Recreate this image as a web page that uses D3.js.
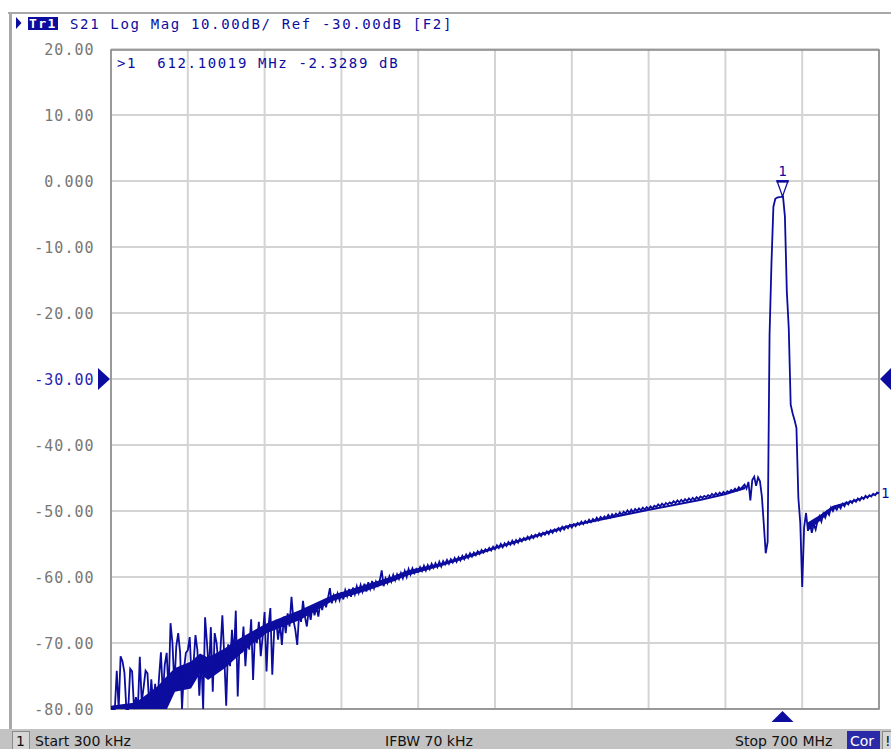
<!DOCTYPE html>
<html>
<head>
<meta charset="utf-8">
<script src="https://cdn.jsdelivr.net/npm/d3@7"></script>
<style>
body { margin: 0; background: #fff; }
svg { display: block; }
</style>
</head>
<body>
<svg id="chart" width="891" height="749"></svg>
<script>
// sweep settings (instrument stimulus)
var sweepStartMHz = 0.3
var sweepStopMHz = 700
var sweepPoints = 401

// S21 log mag trace, dB, one value per sweep point
var s21dB = [
  -81, -83, -82, -74.2, -84, -72.0, -72.8, -74.5, -83, -85,
  -73.9, -74.3, -82, -78.2, -80.5, -72.1, -79, -76.7, -74.2, -74.6,
  -81, -75.5, -79.5, -76.2, -80.8, -75.3, -71.4, -78, -73.3, -71.5,
  -77.5, -67.0, -70.0, -76.5, -70.5, -68.5, -71.5, -80.5, -74, -71.5,
  -71.1, -69.1, -75.5, -73, -68.8, -71.1, -78, -72.1, -81, -66.1,
  -70.0, -74.5, -67.6, -77.4, -68.5, -70, -73.5, -71.1, -65.8, -72,
  -79.5, -70.2, -73.5, -68, -72, -65.1, -78.1, -69.5, -71.5, -67.5,
  -73.5, -69, -71, -66.4, -75.6, -68.5, -70, -66.8, -72, -69,
  -65.3, -74.3, -67.5, -64.7, -74.8, -68, -66.5, -69.5, -67, -70.3,
  -66, -68.5, -65.5, -67.5, -63, -66.5, -68, -70.3, -65.5, -66.8,
  -63.6, -66, -67.5, -65, -66.5, -64.3, -65.8, -64.5, -66, -63.8,
  -65, -63.5, -64.6, -63.2, -61.7, -64, -62.8, -63.6, -62.5, -63.5,
  -62.3, -63.4, -62, -62.9, -61.8, -63, -61.6, -62.6, -61.4, -62.4,
  -61.2, -62.2, -61, -62.2, -60.8, -61.8, -60.6, -61.7, -60.7, -61.3,
  -60.5, -59, -61.4, -60.2, -60.9, -59.9, -60.7, -59.7, -60.5, -59.6,
  -60.3, -59.4, -60.2, -59.1, -60, -58.8, -59.6, -58.7, -59.4, -58.8,
  -59.2, -58.5, -59.1, -58.3, -59, -58.2, -58.8, -58, -58.6, -57.9,
  -58.5, -57.7, -58.4, -57.6, -58.1, -57.4, -58, -57.3, -57.8, -57.1,
  -57.7, -57, -57.5, -56.8, -57.3, -56.6, -57.1, -56.4, -56.9, -56.3,
  -56.7, -56.1, -56.5, -55.9, -56.3, -55.8, -56.1, -55.6, -56, -55.4,
  -55.8, -55.2, -55.6, -55.0, -55.5, -54.9, -55.3, -54.7, -55.1, -54.5,
  -55.0, -54.4, -54.8, -54.2, -54.6, -54.1, -54.4, -53.9, -54.3, -53.7,
  -54.1, -53.6, -53.9, -53.4, -53.8, -53.3, -53.6, -53.1, -53.5, -52.9,
  -53.3, -52.8, -53.1, -52.6, -53.0, -52.4, -52.8, -52.3, -52.6, -52.1,
  -52.5, -52.0, -52.3, -51.8, -52.1, -51.6, -52.0, -51.5, -51.8, -51.3,
  -51.7, -51.2, -51.5, -51.0, -51.4, -50.9, -51.2, -50.8, -51.1, -50.6,
  -51.0, -50.5, -50.8, -50.4, -50.7, -50.2, -50.6, -50.1, -50.4, -49.9,
  -50.3, -49.8, -50.2, -49.7, -50.0, -49.6, -49.9, -49.5, -49.8, -49.4,
  -49.7, -49.3, -49.6, -49.2, -49.4, -49.0, -49.3, -48.9, -49.2, -48.8,
  -49.0, -48.7, -48.9, -48.5, -48.8, -48.4, -48.7, -48.3, -48.6, -48.2,
  -48.5, -48.1, -48.4, -48.0, -48.3, -47.9, -48.2, -47.8, -48.0, -47.7,
  -47.9, -47.6, -47.8, -47.4, -47.7, -47.3, -47.6, -47.2, -47.5, -47.1,
  -47.4, -47.0, -47.2, -46.8, -47.0, -46.6, -46.9, -46.4, -46.7, -46.3,
  -46.0, -46.6, -45.6, -48.4, -45.3, -44.8, -46.2, -44.9, -45.5, -47.8,
  -52, -56.4, -54.7, -23.3, -12.4, -3.9, -2.7, -2.5, -2.45, -2.4,
  -2.33, -5.4, -16.8, -22.3, -33.9, -35.2, -36.2, -37.4, -48, -51.8,
  -61.5, -52.5, -50.3, -53, -51.8, -53.3, -52, -52.8, -51.5, -50.8,
  -51.6, -50.4, -51.0, -50.1, -50.6, -49.5, -50.0, -49.4, -49.8, -49.2,
  -49.6, -48.9, -49.3, -48.7, -49.0, -48.5, -48.8, -48.3, -48.6, -48.1,
  -48.4, -47.9, -48.2, -47.7, -48.0, -47.6, -47.8, -47.4, -47.6, -47.2,
  -47.3
]

// dense core of the noisy trace (upper / lower edge)
var bandFreqMHz = [0.3, 8.5, 23, 43, 51.3, 58.6, 73.2, 81.4, 88.7, 104.2, 111.5, 127, 142.4,
  172.5, 202.6, 233.5, 257.2, 270, 300, 330, 352, 419.4, 489.5, 536.9, 559.7, 577.9,
  null, 635.3, 646.2, 658, 673.6, 700]
var bandUpperdB = [-79.5, -79.3, -79, -76.5, -75, -73.8, -72.8, -71.6, -72.2, -70.8, -69.9, -68.4, -67,
  -65, -62.7, -61.1, -59.9, -59, -57.9, -56.4, -55.3, -52.0, -49.7, -48.2, -47.3, -46.3,
  null, -51.7, -50.6, -49.2, -48.5, -47.2]
var bandLowerdB = [-80, -80, -80, -80, -80, -77.4, -76.9, -74.6, -75.6, -73.8, -72.7, -70.4, -68.5,
  -66.5, -63.6, -62.1, -60.7, -59.8, -58.4, -56.9, -55.7, -52.4, -50.0, -48.5, -47.6, -46.7,
  null, -53.0, -51.5, -49.7, -48.8, -47.4]

var yTicks = [20, 10, 0, -10, -20, -30, -40, -50, -60, -70, -80]
var yTickLabels = ["20.00", "10.00", "0.000", "-10.00", "-20.00", "-30.00",
  "-40.00", "-50.00", "-60.00", "-70.00", "-80.00"]
var refLevel = -30
var markerFreqMHz = 612.10019
var markerValue = -2.3289

var headerText = "S21 Log Mag 10.00dB/ Ref -30.00dB [F2]"
var markerText = ">1  612.10019 MHz -2.3289 dB"

var navy = "#0c0c9e"
var mono = "'DejaVu Sans Mono', monospace"
var sans = "'DejaVu Sans', sans-serif"

var plot = { left: 111, right: 879, top: 49, bottom: 709 }

var svg = d3.select("#chart")

var x = d3.scaleLinear()
    .domain([sweepStartMHz, sweepStopMHz])
    .range([plot.left, plot.right])
var y = d3.scaleLinear()
    .domain([-80, 20])
    .range([plot.bottom, plot.top])
    .clamp(true)

// window border
svg.append("rect").attr("x", 8).attr("y", 12).attr("width", 883).attr("height", 2).attr("fill", "#a8a8a8")
svg.append("rect").attr("x", 9).attr("y", 12).attr("width", 3).attr("height", 717).attr("fill", "#a8a8a8")

// header
svg.append("path").attr("d", "M16,17 L21.5,23 L16,29 Z").attr("fill", navy)
svg.append("rect").attr("x", 28).attr("y", 17).attr("width", 30).attr("height", 13).attr("fill", navy)
svg.append("text")
    .attr("x", 29).attr("y", 28)
    .style("font-family", mono).style("font-size", "13px").style("font-weight", "bold")
    .style("letter-spacing", "1.4px")
    .attr("fill", "#fff")
    .text("Tr1")
svg.append("text")
    .attr("x", 70).attr("y", 28.5)
    .style("font-family", mono).style("font-size", "14px")
    .style("letter-spacing", "1.65px")
    .attr("fill", navy)
    .text(headerText)

// grid
var vgrid = d3.range(11).map(function (k) {
    return sweepStartMHz + k * (sweepStopMHz - sweepStartMHz) / 10
})
svg.append("g").selectAll("line")
    .data(vgrid)
    .enter().append("line")
    .attr("x1", function (d) { return x(d) }).attr("x2", function (d) { return x(d) })
    .attr("y1", plot.top).attr("y2", plot.bottom)
    .attr("stroke", "#d4d4d4").attr("stroke-width", 2)
svg.append("g").selectAll("line")
    .data(yTicks)
    .enter().append("line")
    .attr("x1", plot.left).attr("x2", plot.right)
    .attr("y1", function (d) { return y(d) }).attr("y2", function (d) { return y(d) })
    .attr("stroke", "#d4d4d4").attr("stroke-width", 2)

// frame
svg.append("rect")
    .attr("x", plot.left).attr("y", plot.top + 1)
    .attr("width", plot.right - plot.left).attr("height", plot.bottom - plot.top - 1)
    .attr("fill", "none").attr("stroke", "#858585").attr("stroke-width", 1.5)

// y labels
svg.append("g").selectAll("text")
    .data(yTicks)
    .enter().append("text")
    .attr("x", 94.5)
    .attr("y", function (d) { return y(d) + 5.5 })
    .attr("text-anchor", "end")
    .style("font-family", mono).style("font-size", "15px")
    .style("letter-spacing", "1px")
    .attr("fill", function (d) { return d == refLevel ? "#2626b4" : "#777" })
    .text(function (d, i) { return yTickLabels[i] })

// reference level arrows
svg.append("path")
    .attr("d", "M98," + (y(refLevel) - 11) + " L110," + y(refLevel) + " L98," + (y(refLevel) + 11) + " Z")
    .attr("fill", navy)
svg.append("path")
    .attr("d", "M891," + (y(refLevel) - 11) + " L880," + y(refLevel) + " L891," + (y(refLevel) + 11) + " Z")
    .attr("fill", navy)

// noise core
var band = bandFreqMHz.map(function (f, i) {
    return { f: f, hi: bandUpperdB[i], lo: bandLowerdB[i] }
})
svg.append("path")
    .datum(band)
    .attr("fill", navy)
    .attr("d", d3.area()
        .defined(function (d) { return d.f != null })
        .x(function (d) { return x(d.f) })
        .y0(function (d) { return y(d.lo) })
        .y1(function (d) { return y(d.hi) }))

// trace
var trace = s21dB.map(function (v, i) {
    return { f: sweepStartMHz + i * (sweepStopMHz - sweepStartMHz) / (sweepPoints - 1), v: v }
})
svg.append("path")
    .datum(trace)
    .attr("fill", "none")
    .attr("stroke", navy)
    .attr("stroke-width", 1.8)
    .attr("stroke-linejoin", "miter")
    .attr("d", d3.line()
        .x(function (d) { return x(d.f) })
        .y(function (d) { return y(d.v) }))

// trace end label
svg.append("text")
    .attr("x", plot.right + 2).attr("y", y(trace[trace.length - 1].v) + 5)
    .style("font-family", mono).style("font-size", "14px")
    .attr("fill", navy)
    .text("1")

// marker
var mx = x(markerFreqMHz), my = y(markerValue)
svg.append("path")
    .attr("d", "M" + (mx - 5.5) + "," + (my - 15.5) + " L" + (mx + 5.5) + "," + (my - 15.5) + " L" + mx + "," + my + " Z")
    .attr("fill", "#fff").attr("stroke", navy).attr("stroke-width", 1.3)
svg.append("line")
    .attr("x1", mx - 6).attr("x2", mx + 6)
    .attr("y1", my - 15).attr("y2", my - 15)
    .attr("stroke", navy).attr("stroke-width", 2.5)
svg.append("text")
    .attr("x", mx).attr("y", my - 20.5)
    .attr("text-anchor", "middle")
    .style("font-family", mono).style("font-size", "14px")
    .attr("fill", navy)
    .text("1")

svg.append("text")
    .attr("x", 117).attr("y", 68)
    .attr("xml:space", "preserve")
    .style("white-space", "pre")
    .style("font-family", mono).style("font-size", "14px")
    .style("letter-spacing", "1.65px")
    .attr("fill", navy)
    .text(markerText)

// stimulus marker arrow
svg.append("path")
    .attr("d", "M" + (mx - 11) + ",722 L" + mx + ",711 L" + (mx + 11) + ",722 Z")
    .attr("fill", navy)

// status bar
svg.append("rect").attr("x", 0).attr("y", 729).attr("width", 891).attr("height", 20).attr("fill", "#c3c3c3")
svg.append("rect").attr("x", 12.5).attr("y", 731.5).attr("width", 17).attr("height", 18)
    .attr("fill", "#d6d6d6").attr("stroke", "#8a8a8a")
svg.append("text").attr("x", 16).attr("y", 746)
    .style("font-family", sans).style("font-size", "14px").attr("fill", "#111").text("1")
svg.append("text").attr("x", 35).attr("y", 746)
    .style("font-family", sans).style("font-size", "14px").attr("fill", "#111").text("Start 300 kHz")
svg.append("text").attr("x", 385).attr("y", 746)
    .style("font-family", sans).style("font-size", "14px").attr("fill", "#111").text("IFBW 70 kHz")
svg.append("text").attr("x", 735).attr("y", 746)
    .style("font-family", sans).style("font-size", "14px").attr("fill", "#111").text("Stop 700 MHz")
svg.append("rect").attr("x", 847).attr("y", 731).attr("width", 33).attr("height", 18).attr("fill", "#2a2aa8")
svg.append("text").attr("x", 850).attr("y", 746)
    .style("font-family", sans).style("font-size", "14px").attr("fill", "#fff").text("Cor")
svg.append("rect").attr("x", 882.5).attr("y", 731.5).attr("width", 10).attr("height", 18)
    .attr("fill", "#d6d6d6").attr("stroke", "#8a8a8a")
svg.append("text").attr("x", 885).attr("y", 746)
    .style("font-family", sans).style("font-size", "14px").attr("fill", "#111").text("!")
</script>
</body>
</html>
